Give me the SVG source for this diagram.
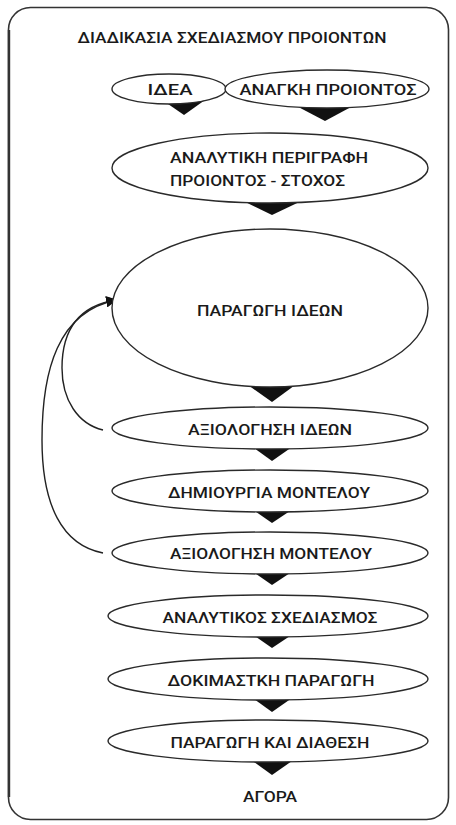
<svg xmlns="http://www.w3.org/2000/svg" width="456" height="825" viewBox="0 0 456 825">
<style>
text{font-family:Roboto,"Liberation Sans",sans-serif;font-weight:500;font-size:15.5px;fill:#1a1a1a;}
.node ellipse{fill:#fff;stroke:#2a2a2a;stroke-width:1.4;}
.wedge{fill:#111;}
.conn{fill:none;stroke:#222;stroke-width:1.4;}
</style>
<defs>
<marker id="ah" viewBox="0 0 10 10" refX="9" refY="5" markerWidth="11" markerHeight="11" markerUnits="userSpaceOnUse" orient="auto">
<path d="M0,0 L10,5 L0,10 z" fill="#111"/>
</marker>
</defs>
<rect x="0" y="0" width="456" height="825" fill="#fff"/>
<rect id="frame" x="8.5" y="7.5" width="440" height="812" rx="22" ry="22" fill="none" stroke="#333" stroke-width="1.6"/>
<line x1="9" y1="30" x2="9" y2="797" stroke="#333" stroke-width="2.4"/>
<text id="title" x="232" y="42.5" text-anchor="middle" textLength="309" lengthAdjust="spacingAndGlyphs">ΔΙΑΔΙΚΑΣΙΑ ΣΧΕΔΙΑΣΜΟΥ ΠΡΟΙΟΝΤΩΝ</text>

<g id="wedges">
<polygon class="wedge" points="155,95 212,95 184,115"/>
<polygon class="wedge" points="285,100 364,100 325,121"/>
<polygon class="wedge" points="231,195 314,195 272,215"/>
<polygon class="wedge" points="241,380 302,380 272,402"/>
<polygon class="wedge" points="243,440 302,440 272,461"/>
<polygon class="wedge" points="243,503 302,503 272,523"/>
<polygon class="wedge" points="243,565 302,565 272,585"/>
<polygon class="wedge" points="243,628 302,628 272,648"/>
<polygon class="wedge" points="243,691 302,691 272,712"/>
<polygon class="wedge" points="243,754 302,754 272,775"/>
</g>

<g id="connectors">
<path class="conn" d="M103,430 C78,424 62,400 62,368 C62,330 78,306 116,300" marker-end="url(#ah)"/>
<path class="conn" d="M103,553 C62,545 42,505 42,440 C42,370 58,312 116,300" marker-end="url(#ah)"/>
</g>

<g id="n-idea" class="node">
<ellipse cx="169" cy="89" rx="57" ry="15"/>
<text x="170" y="95" text-anchor="middle" textLength="45" lengthAdjust="spacingAndGlyphs">ΙΔΕΑ</text>
</g>
<g id="n-anagki" class="node">
<ellipse cx="327" cy="89" rx="102" ry="19"/>
<text x="328" y="95" text-anchor="middle" textLength="177" lengthAdjust="spacingAndGlyphs">ΑΝΑΓΚΗ ΠΡΟΙΟΝΤΟΣ</text>
</g>
<g id="n-perigrafi" class="node">
<ellipse cx="270" cy="168" rx="158" ry="35"/>
<text x="170" y="163" textLength="198" lengthAdjust="spacingAndGlyphs">ΑΝΑΛΥΤΙΚΗ ΠΕΡΙΓΡΑΦΗ</text>
<text x="170" y="186" textLength="175" lengthAdjust="spacingAndGlyphs">ΠΡΟΙΟΝΤΟΣ - ΣΤΟΧΟΣ</text>
</g>
<g id="n-paragogi-ideon" class="node">
<ellipse cx="270" cy="308" rx="158" ry="79"/>
<text x="270" y="316" text-anchor="middle" textLength="146" lengthAdjust="spacingAndGlyphs">ΠΑΡΑΓΩΓΗ ΙΔΕΩΝ</text>
</g>
<g id="n-axiologisi-ideon" class="node">
<ellipse cx="270" cy="428" rx="158" ry="21"/>
<text x="270" y="435" text-anchor="middle" textLength="164" lengthAdjust="spacingAndGlyphs">ΑΞΙΟΛΟΓΗΣΗ ΙΔΕΩΝ</text>
</g>
<g id="n-dimiourgia" class="node">
<ellipse cx="270" cy="491" rx="158" ry="21"/>
<text x="269" y="498" text-anchor="middle" textLength="202" lengthAdjust="spacingAndGlyphs">ΔΗΜΙΟΥΡΓΙΑ ΜΟΝΤΕΛΟΥ</text>
</g>
<g id="n-axiologisi-montelou" class="node">
<ellipse cx="270" cy="553" rx="158" ry="21"/>
<text x="271" y="559" text-anchor="middle" textLength="202" lengthAdjust="spacingAndGlyphs">ΑΞΙΟΛΟΓΗΣΗ ΜΟΝΤΕΛΟΥ</text>
</g>
<g id="n-analytikos" class="node">
<ellipse cx="268" cy="616" rx="160" ry="21"/>
<text x="270" y="623" text-anchor="middle" textLength="215" lengthAdjust="spacingAndGlyphs">ΑΝΑΛΥΤΙΚΟΣ ΣΧΕΔΙΑΣΜΟΣ</text>
</g>
<g id="n-dokimastiki" class="node">
<ellipse cx="268" cy="679" rx="160" ry="21"/>
<text x="271" y="686" text-anchor="middle" textLength="207" lengthAdjust="spacingAndGlyphs">ΔΟΚΙΜΑΣΤΚΗ ΠΑΡΑΓΩΓΗ</text>
</g>
<g id="n-diathesi" class="node">
<ellipse cx="268" cy="741" rx="160" ry="21"/>
<text x="270" y="748" text-anchor="middle" textLength="199" lengthAdjust="spacingAndGlyphs">ΠΑΡΑΓΩΓΗ ΚΑΙ ΔΙΑΘΕΣΗ</text>
</g>
<g id="n-agora">
<text x="270" y="802" text-anchor="middle" textLength="54" lengthAdjust="spacingAndGlyphs">ΑΓΟΡΑ</text>
</g>
</svg>
